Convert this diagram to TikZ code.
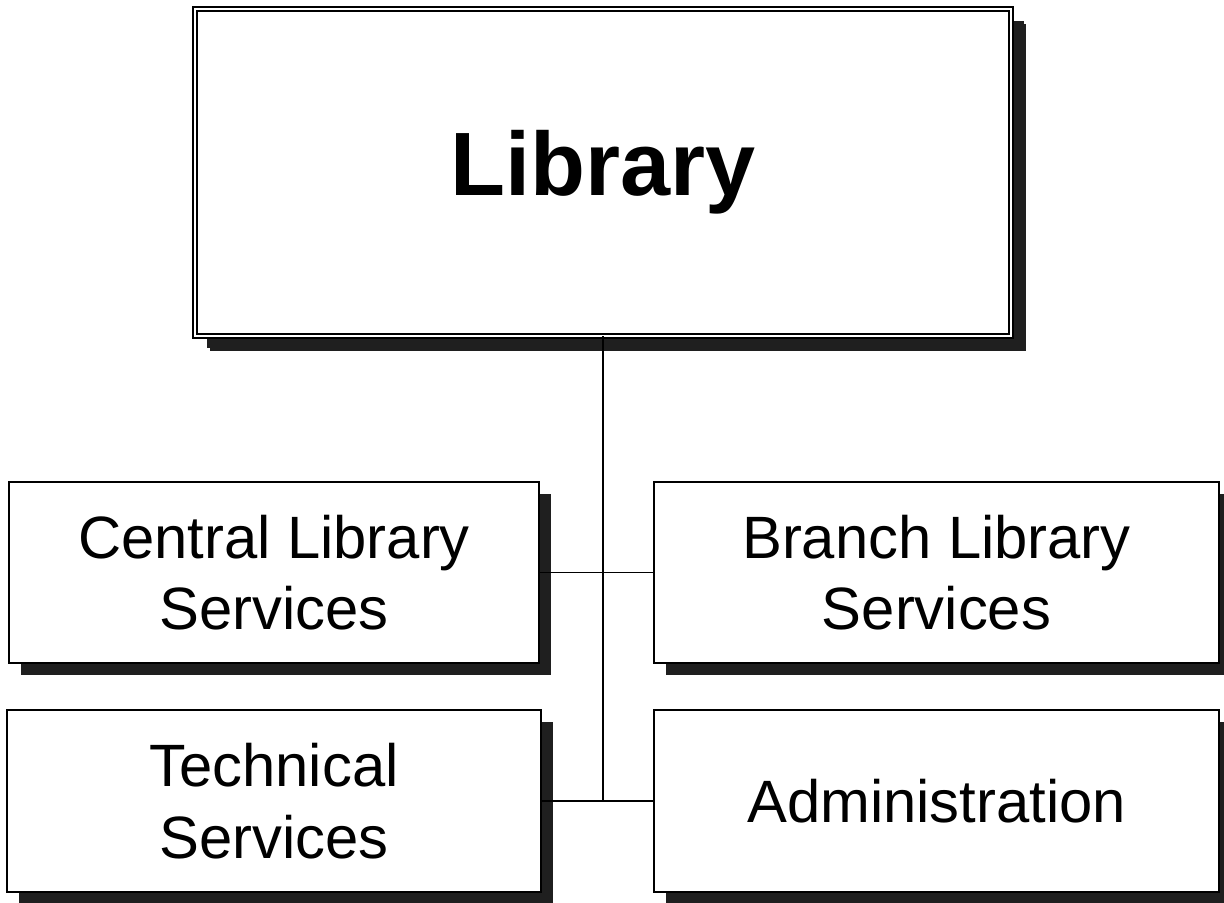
\documentclass[tikz,border=0pt]{standalone}
\usepackage{fontspec}
\setmainfont{Liberation Sans}
\usetikzlibrary{shadows}
\begin{document}
\begin{tikzpicture}[x=0.025cm,y=-0.025cm,line width=1.3pt,
    unit/.style={draw,fill=white,inner sep=0pt,outer sep=0pt,align=center,
        font=\fontsize{42.5}{51}\selectfont,
        drop shadow={shadow xshift=0.31cm,shadow yshift=-0.31cm,opacity=1,fill=black!88}},
    head/.style={unit,double,double distance=1.6pt,line width=1.2pt,
        font=\fontsize{64}{77}\selectfont\bfseries,
        drop shadow={shadow xshift=0.37cm,shadow yshift=-0.37cm,opacity=1,fill=black!88}}]
    \useasboundingbox(0,0)rectangle(1224,902);
    \node[head,minimum width=20.4cm,minimum height=8.175cm](lib)at(603,172.5){Library};
    \node[unit,minimum width=13.25cm,minimum height=4.525cm](central)at(274,572.5){Central Library\\Services};
    \node[unit,minimum width=14.125cm,minimum height=4.525cm](branch)at(936.5,572.5){Branch Library\\Services};
    \node[unit,minimum width=13.35cm,minimum height=4.55cm](tech)at(274,801){Technical\\Services};
    \node[unit,minimum width=14.125cm,minimum height=4.55cm](admin)at(936.5,801){Administration};
    \draw(lib.south)--(lib.south|-admin.west);
    \draw(central.east)--(branch.west) (tech.east)--(admin.west);
\end{tikzpicture}
\end{document}
